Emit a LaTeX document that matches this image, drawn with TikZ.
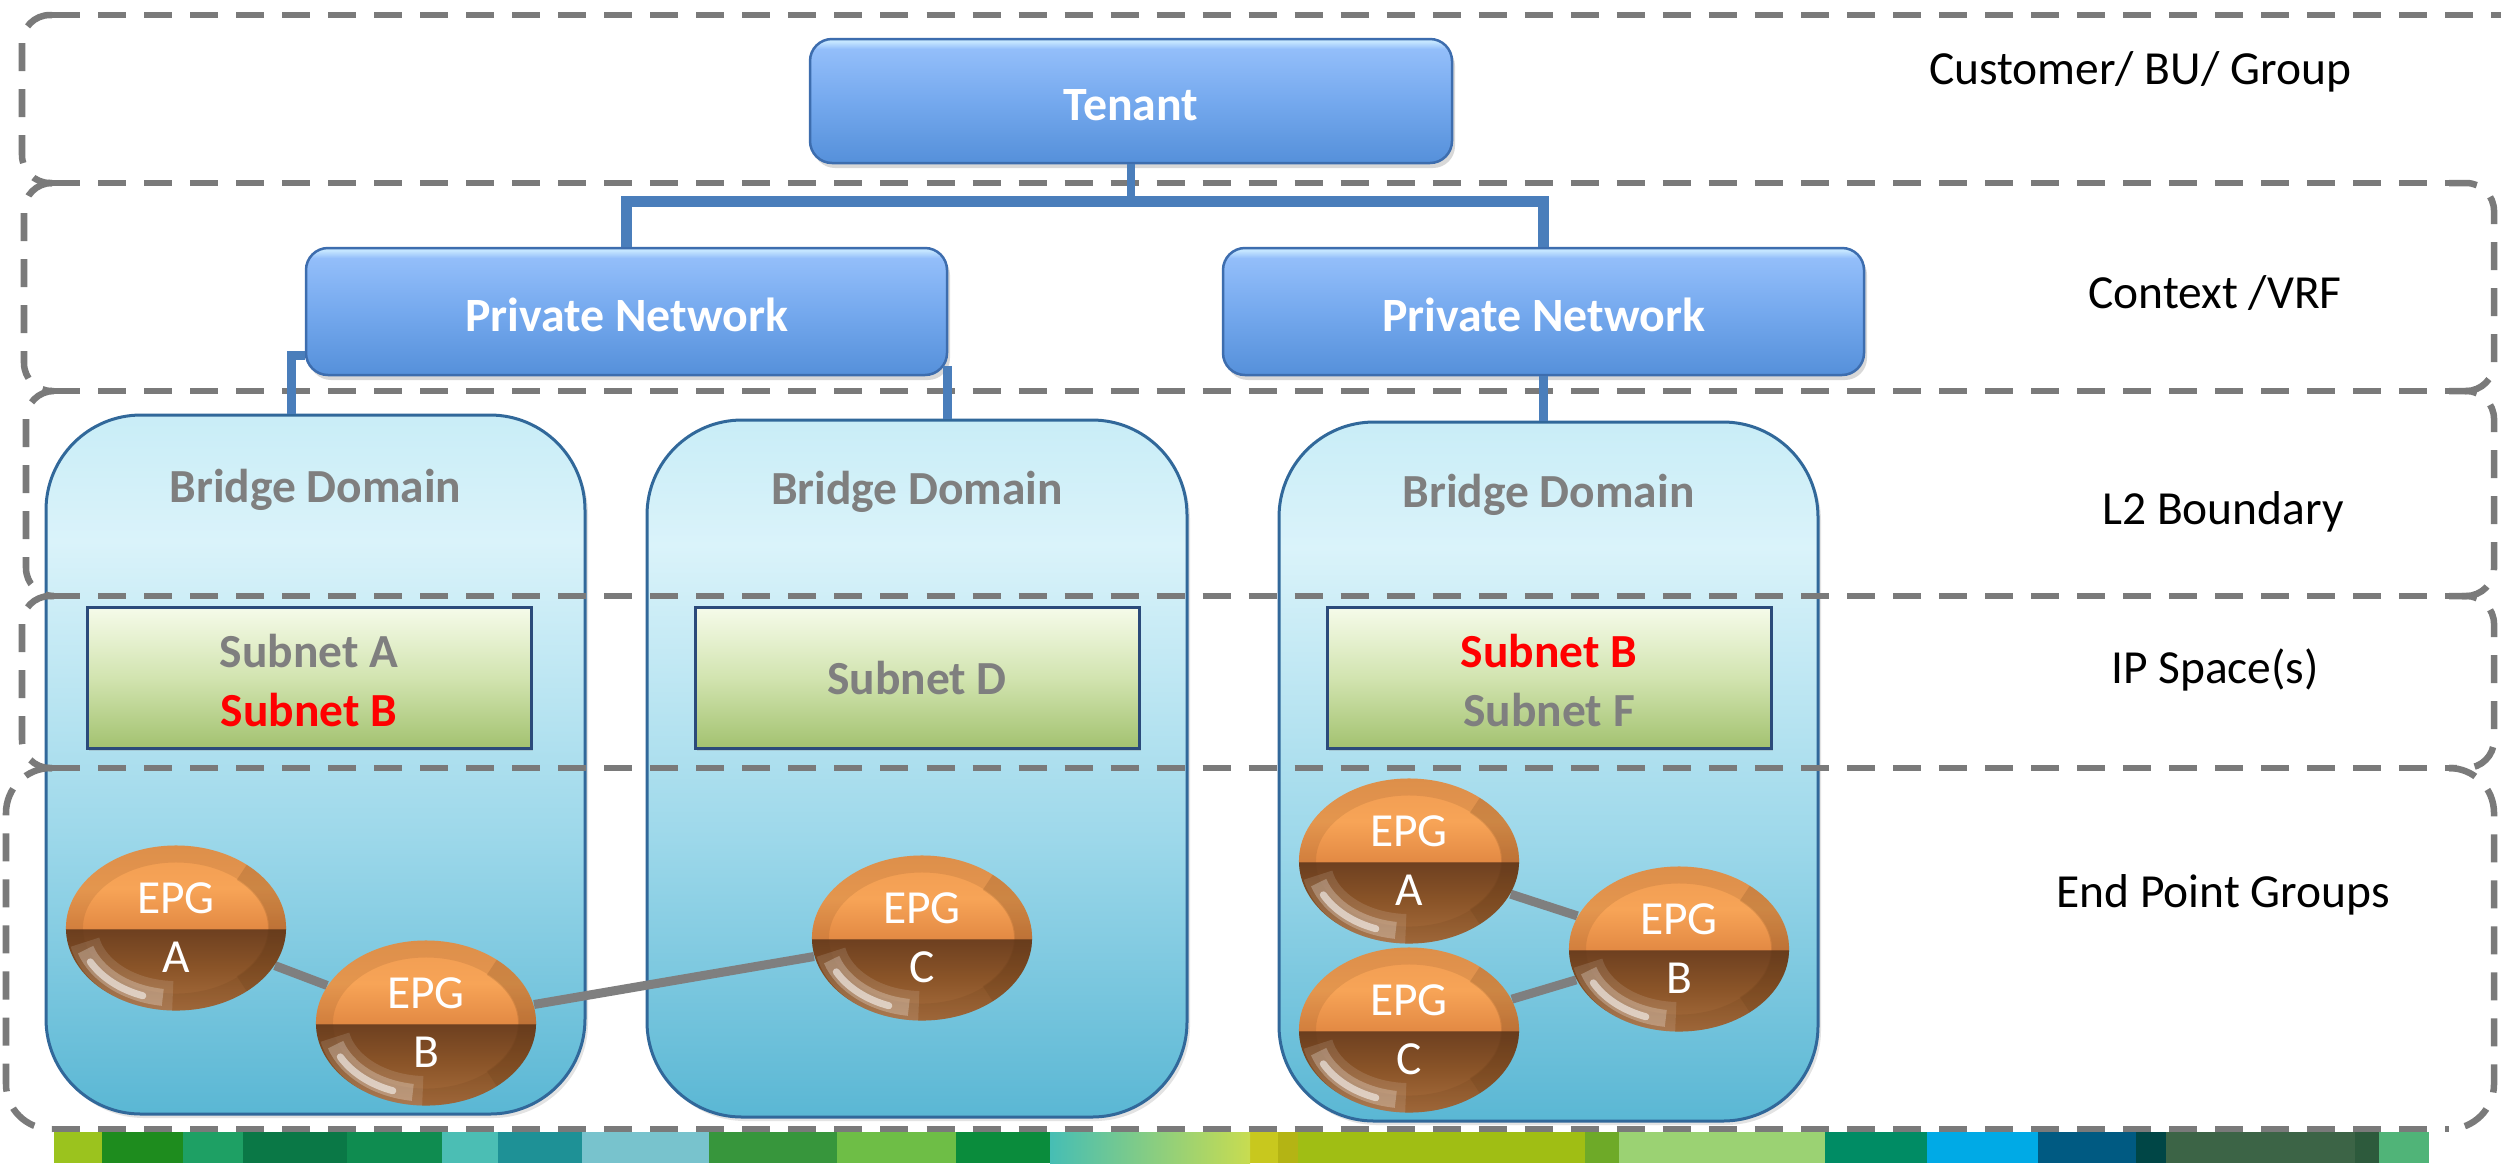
\documentclass[tikz,border=0pt]{standalone}
\usepackage{fontspec}
\setmainfont{Carlito}
\usetikzlibrary{fit,shapes.geometric,shadows}

% palette
\definecolor{frameGray}{HTML}{7A7A7A}
\definecolor{connBlue}{HTML}{4A7EBB}
\definecolor{bxBot}{HTML}{5590DA}
\definecolor{bxMid}{HTML}{75A9EE}
\definecolor{bxUp}{HTML}{93BEFA}
\definecolor{bxHi}{HTML}{C5E6FF}
\definecolor{bxBrd}{HTML}{3D6DAE}
\definecolor{bdBot}{HTML}{5AB7D4}
\definecolor{bdMid}{HTML}{9DD8EA}
\definecolor{bdHi}{HTML}{DAF3FA}
\definecolor{bdTop}{HTML}{C9EDF7}
\definecolor{bdBrd}{HTML}{31689A}
\definecolor{sbBot}{HTML}{A3C270}
\definecolor{sbMid}{HTML}{D2E4B0}
\definecolor{sbTop}{HTML}{F6FBEA}
\definecolor{sbBrd}{HTML}{2B4A7A}
\definecolor{titleGray}{HTML}{7F7F7F}
\definecolor{subRed}{HTML}{FF0000}
\definecolor{linkGray}{HTML}{7F7F7F}
\definecolor{epgLow}{HTML}{A86E3E}
\definecolor{epgMidB}{HTML}{8A5428}
\definecolor{epgDark}{HTML}{6E4020}
\definecolor{epgOrLo}{HTML}{E38A44}
\definecolor{epgOr}{HTML}{F7A457}
\definecolor{epgOrTop}{HTML}{F09C52}
\definecolor{epgEdge}{HTML}{5A3414}

% gradients
\pgfdeclareverticalshading{blueshade}{100bp}{color(0bp)=(bxBot); color(25bp)=(bxBot); color(50bp)=(bxMid); color(71bp)=(bxUp); color(74bp)=(bxHi); color(100bp)=(bxHi)}
\pgfdeclareverticalshading{bdshade}{100bp}{color(0bp)=(bdBot); color(25bp)=(bdBot); color(45bp)=(bdMid); color(66bp)=(bdHi); color(75bp)=(bdTop); color(100bp)=(bdTop)}
\pgfdeclareverticalshading{subshade}{100bp}{color(0bp)=(sbBot); color(25bp)=(sbBot); color(50bp)=(sbMid); color(75bp)=(sbTop); color(100bp)=(sbTop)}
\pgfdeclareverticalshading{epgball}{100bp}{color(0bp)=(epgLow); color(25bp)=(epgLow); color(38bp)=(epgMidB); color(49.6bp)=(epgDark); color(50bp)=(epgOrLo); color(62bp)=(epgOr); color(75bp)=(epgOrTop); color(100bp)=(epgOrTop)}

\pgfdeclarelayer{back}
\pgfdeclarelayer{links}
\pgfsetlayers{back,links,main}

\begin{document}
\begin{tikzpicture}[x=0.01cm, y=-0.01cm,
  frame/.style={draw=frameGray, line width=0.065cm, dash pattern=on 0.28cm off 0.18cm, rounded corners=0.28cm},
  conn/.style={draw=connBlue, line width=0.09cm},
  bluebox/.style={shade, shading=blueshade, draw=bxBrd, line width=0.025cm, rounded corners=0.22cm,
    inner sep=0, drop shadow={opacity=0.3, shadow xshift=0.03cm, shadow yshift=-0.05cm}},
  bluetext/.style={text=white, font=\fontsize{13.6}{16}\selectfont\bfseries, inner sep=0},
  bdbox/.style={shade, shading=bdshade, draw=bdBrd, line width=0.03cm, rounded corners=0.95cm, inner sep=0,
    drop shadow={opacity=0.22, shadow xshift=0.03cm, shadow yshift=-0.04cm}},
  bdtitle/.style={text=titleGray, font=\fontsize{13.5}{16}\selectfont\bfseries, inner sep=0},
  subnet/.style={shade, shading=subshade, draw=sbBrd, line width=0.03cm, inner sep=0,
    drop shadow={opacity=0.25, shadow xshift=0.02cm, shadow yshift=-0.03cm}},
  subtext/.style={align=center, text=titleGray, font=\fontsize{13.5}{16.8}\selectfont\bfseries, inner sep=0},
  epg/.style={ellipse, minimum width=2.2cm, minimum height=1.65cm, inner sep=0, shade, shading=epgball,
    text=white, align=center, font=\fontsize{13.5}{16.8}\selectfont,
    path picture={
      \draw[epgEdge, opacity=0.12, line width=0.34cm] (path picture bounding box.center) ellipse [x radius=1.1cm, y radius=0.825cm];
      \draw[epgEdge, opacity=0.16, line width=0.36cm] ([shift={(-50:1.1cm and 0.825cm)}]path picture bounding box.center) arc [start angle=-50, end angle=50, x radius=1.1cm, y radius=0.825cm];
      \draw[white, opacity=0.12, line width=0.30cm] ([shift={(192:0.93cm and 0.68cm)}]path picture bounding box.center) arc [start angle=192, end angle=268, x radius=0.93cm, y radius=0.68cm];
      \draw[white, opacity=0.25, line width=0.17cm] ([shift={(198:0.95cm and 0.70cm)}]path picture bounding box.center) arc [start angle=198, end angle=262, x radius=0.95cm, y radius=0.70cm];
      \draw[white, opacity=0.55, line width=0.07cm, line cap=round] ([shift={(208:0.97cm and 0.72cm)}]path picture bounding box.center) arc [start angle=208, end angle=250, x radius=0.97cm, y radius=0.72cm];
    }},
  epglink/.style={draw=linkGray, line width=0.09cm},
  lbl/.style={font=\fontsize{13.5}{16}\selectfont, text=black, inner sep=0}
]
\useasboundingbox (0,0) rectangle (2501,1163);

\begin{pgfonlayer}{back}
  \fill[white] (0,0) rectangle (2501,1163);
  % colour band along the bottom edge
  \foreach \xa/\xb/\c in {54/102/9BC31E, 102/183/1E8C1E, 183/243/1EA064, 243/347/0A7846,
      347/442/0F8C50, 442/498/4BBEB4, 498/582/1E9196, 582/709/78C3CD, 709/837/37963C,
      837/956/6EBE46, 956/1050/0A8C3C, 1250/1278/C8C81E, 1278/1298/B4B414, 1298/1585/A0BE14,
      1585/1619/6EAA28, 1619/1825/9BD273, 1825/1927/008C64, 1927/2038/00AAE6, 2038/2136/005A82,
      2136/2166/004646, 2166/2355/3C6446, 2355/2379/2D5A3C, 2379/2429/50B478}{
    \definecolor{bandcol}{HTML}{\c}
    \fill[bandcol] (\xa,1132) rectangle (\xb,1163);
  }
  \definecolor{bandL}{HTML}{46BEB4}
  \definecolor{bandR}{HTML}{C8DC50}
  \shade[left color=bandL, right color=bandR] (1050,1132) rectangle (1250,1163);

  % bridge domains
  \node[bdbox, fit={(46,415) (585,1114)}] (bd1) {};
  \node[bdbox, fit={(647,420) (1187,1117)}] (bd2) {};
  \node[bdbox, fit={(1279,422) (1818,1121)}] (bd3) {};

  % layer frames: shared horizontal dividers
  \draw[frame] (52,15) -- (2600,15);
  \foreach \yy in {183,391,596,768,1129}{
    \draw[frame] (52,\yy) -- (2449,\yy);
  }
  % layer frames: rounded left and right sides
  \draw[frame] (52,15) -- (22,15) -- (22,183) -- (52,183);
  \draw[frame] (52,183) -- (24,183) -- (24,391) -- (52,391);
  \draw[frame] (2449,183) -- (2494,183) -- (2494,391) -- (2449,391);
  \draw[frame] (52,391) -- (26,391) -- (26,596) -- (52,596);
  \draw[frame] (2449,391) -- (2494,391) -- (2494,596) -- (2449,596);
  \draw[frame] (52,596) -- (22,596) -- (22,768) -- (52,768);
  \draw[frame] (2449,596) -- (2494,596) -- (2494,768) -- (2449,768);
  \draw[frame, rounded corners=0.45cm] (52,768) -- (6,768) -- (6,1129) -- (52,1129);
  \draw[frame, rounded corners=0.45cm] (2449,768) -- (2494,768) -- (2494,1129) -- (2449,1129);
\end{pgfonlayer}

% tenant and private networks
\node[bluebox, fit={(810,39) (1452,163)}] (tenant) {};
\node[bluebox, fit={(306,248) (947,375)}] (pn1) {};
\node[bluebox, fit={(1223,248) (1864,375)}] (pn2) {};
\node[bluetext] (tenantT) at ([yshift=-0.04cm]tenant.center) {Tenant};
\node[bluetext] (pn1T) at ([yshift=-0.03cm]pn1.center) {Private Network};
\node[bluetext] (pn2T) at ([yshift=-0.03cm]pn2.center) {Private Network};

\coordinate (busc) at (1131,201);
\coordinate (tapL) at (291,355);
\coordinate (tapR) at (947,366);
\draw[conn, line width=0.08cm] (tenant.south) -- (tenant.south |- busc);
\draw[conn, line width=0.11cm] (pn1.north) -- (pn1.north |- busc) -- (pn2.north |- busc) -- (pn2.north);
\draw[conn] (pn1.west |- tapL) -- (tapL) -- (tapL |- bd1.north);
\draw[conn] (tapR) -- (tapR |- bd2.north);
\draw[conn] (pn2.south) -- (pn2.south |- bd3.north);

% bridge domain titles
\path (bd1.north) ++(0,76) node[bdtitle] (bdt1) {Bridge Domain};
\path (bd2.north) ++(0,73) node[bdtitle] (bdt2) {Bridge Domain};
\path (bd3.north) ++(0,74) node[bdtitle] (bdt3) {Bridge Domain};

% subnets
\node[subnet, fit={(87,607) (531,748)}] (sn1) {};
\node[subnet, fit={(695,607) (1139,748)}] (sn2) {};
\node[subnet, fit={(1327,607) (1771,748)}] (sn3) {};
\node[subtext] (sn1T) at ([yshift=-0.03cm]sn1.center) {Subnet A\\{\color{subRed}Subnet B}};
\node[subtext] (sn2T) at (sn2.center) {Subnet D};
\node[subtext] (sn3T) at ([yshift=-0.03cm]sn3.center) {{\color{subRed}Subnet B}\\Subnet F};

% end point groups
\node[epg] (a1) at (176,928) {EPG\\A};
\node[epg] (b1) at (426,1023) {EPG\\B};
\node[epg] (c2) at (922,938) {EPG\\C};
\node[epg] (a3) at (1409,861) {EPG\\A};
\node[epg] (b3) at (1679,949) {EPG\\B};
\node[epg] (c3) at (1409,1030) {EPG\\C};

\begin{pgfonlayer}{links}
  \draw[epglink] (a1) -- (b1);
  \draw[epglink] (b1) -- (c2);
  \draw[epglink] (a3) -- (b3);
  \draw[epglink] (c3) -- (b3);
\end{pgfonlayer}

% layer captions
\node[lbl] (l1) at (2140,72) {Customer/ BU/ Group};
\node[lbl] (l2) at (2215,293) {Context /VRF};
\node[lbl] (l3) at (2223,512) {L2 Boundary};
\node[lbl] (l4) at (2215,670) {IP Space(s)};
\node[lbl] (l5) at (2223,895) {End Point Groups};
\end{tikzpicture}
\end{document}
